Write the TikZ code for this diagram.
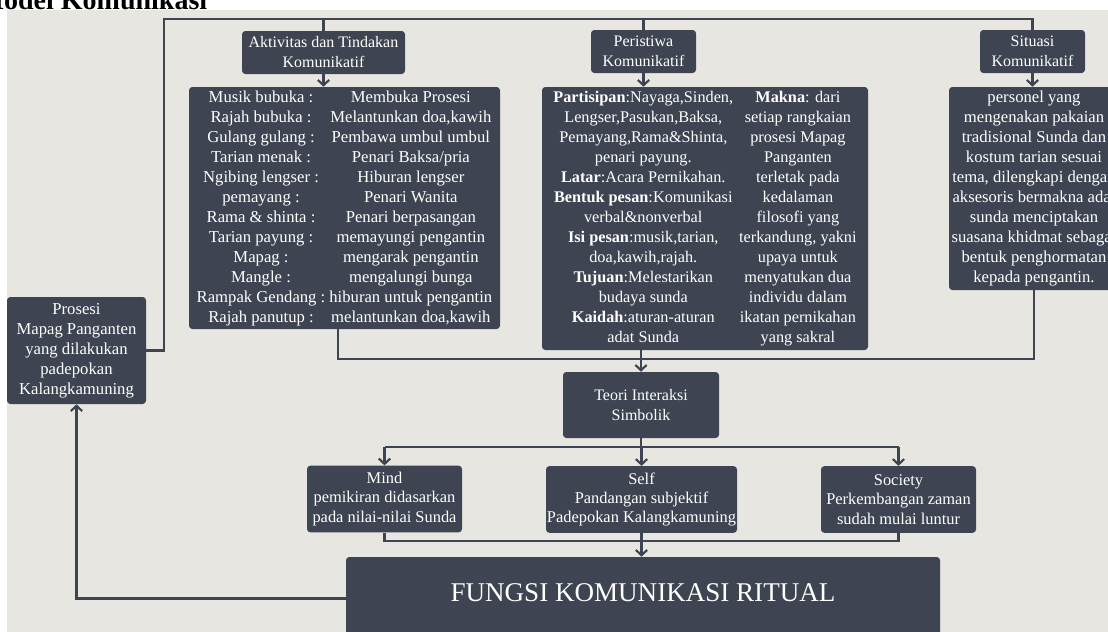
\documentclass[tikz,border=0pt]{standalone}
\usepackage{fontspec}
\setmainfont{Liberation Serif}
\usepackage{tikz}
\usetikzlibrary{arrows.meta}
\definecolor{dunkel}{HTML}{3E4451}
\definecolor{grund}{HTML}{E7E6E0}

\begin{document}
\begin{tikzpicture}[x=0.75pt, y=-0.75pt,
			kasten/.style={fill=dunkel, text=white, rounded corners=2.5pt, inner sep=0pt, align=center, font=\fontsize{12.5}{15}\selectfont},
			titel/.style={kasten, minimum width=78.75pt, minimum height=32.25pt, font=\fontsize{12}{15}\selectfont},
			ebene/.style={kasten, minimum width=116.25pt, minimum height=50pt, font=\fontsize{12.3}{14.6}\selectfont},
			linie/.style={draw=dunkel, line width=1.6pt},
			>={Straight Barb[length=4pt,width=8.5pt]}]   %Voreinstellung für Pfeilspitzen
			%Hintergrund
			\useasboundingbox (0,0) rectangle (1108,632);
			\fill[white] (0,0) rectangle (1108,632);
			\fill[grund] (7,10) rectangle (1108,632);
			\node[anchor=base west, font=\bfseries\fontsize{21}{25}\selectfont] (ueberschrift) at (-27,9) {Model Komunikasi};
			% Kaesten oben
			\node[kasten, minimum width=104.25pt, minimum height=80.25pt] (prosesi) at (76.5,350.5) {Prosesi\\ Mapag Panganten\\ yang dilakukan\\ padepokan\\ Kalangkamuning};
			\node[titel, minimum width=122.25pt] (aktivitas) at (323.5,52.5) {Aktivitas dan Tindakan\\ Komunikatif};
			\node[titel] (peristiwa) at (643.5,51.5) {Peristiwa\\ Komunikatif};
			\node[titel] (situasi) at (1032.5,51.5) {Situasi\\ Komunikatif};
			\node[kasten, minimum width=233.25pt, minimum height=181.5pt] (tabel) at (344.5,208) {\begin{tabular}{@{}c@{\hspace{3pt}}c@{}}
				Musik bubuka : & Membuka Prosesi\\
				Rajah bubuka : & Melantunkan doa,kawih\\
				Gulang gulang : & Pembawa umbul umbul\\
				Tarian menak : & Penari Baksa/pria\\
				Ngibing lengser : & Hiburan lengser\\
				pemayang : & Penari Wanita\\
				Rama \& shinta : & Penari berpasangan\\
				Tarian payung : & memayungi pengantin\\
				Mapag : & mengarak pengantin\\
				Mangle : & mengalungi bunga\\
				Rampak Gendang : & hiburan untuk pengantin\\
				Rajah panutup : & melantunkan doa,kawih
			\end{tabular}};
			\node[kasten, minimum width=244.5pt, minimum height=197.25pt, font=\fontsize{12.2}{15}\selectfont] (pisi) at (705,218.5) {\begin{tabular}{@{}c@{\hspace{4.5pt}}c@{}}
				\textbf{Partisipan}:Nayaga,Sinden, & \textbf{Makna}: dari\\
				Lengser,Pasukan,Baksa, & setiap rangkaian\\
				Pemayang,Rama\&Shinta, & prosesi Mapag\\
				penari payung. & Panganten\\
				\textbf{Latar}:Acara Pernikahan. & terletak pada\\
				\textbf{Bentuk pesan}:Komunikasi & kedalaman\\
				verbal\&nonverbal & filosofi yang\\
				\textbf{Isi pesan}:musik,tarian, & terkandung, yakni\\
				doa,kawih,rajah. & upaya untuk\\
				\textbf{Tujuan}:Melestarikan & menyatukan dua\\
				budaya sunda & individu dalam\\
				\textbf{Kaidah}:aturan-aturan & ikatan pernikahan\\
				adat Sunda & yang sakral
			\end{tabular}};
			\node[kasten, minimum width=127.5pt, minimum height=152.25pt] (sisi) at (1034,188.5) {personel yang\\ mengenakan pakaian\\ tradisional Sunda dan\\ kostum tarian sesuai\\ tema, dilengkapi dengan\\ aksesoris bermakna adat\\ sunda menciptakan\\ suasana khidmat sebagai\\ bentuk penghormatan\\ kepada pengantin.};
			% Kaesten unten
			\node[kasten, minimum width=117pt, minimum height=49.5pt, font=\fontsize{12}{14.3}\selectfont] (teori) at (641,405) {Teori Interaksi\\ Simbolik};
			\node[ebene] (mind) at (384.5,499) {Mind\\ pemikiran didasarkan\\ pada nilai-nilai Sunda};
			\node[ebene, minimum width=143.25pt] (self) at (641.5,499.5) {Self\\ Pandangan subjektif\\ Padepokan Kalangkamuning};
			\node[ebene] (society) at (898.5,499.5) {Society\\ Perkembangan zaman\\ sudah mulai luntur};
			\node[kasten, minimum width=445.5pt, minimum height=62.25pt, text height=14pt, text depth=9.75pt, font=\fontsize{20.3}{24}\selectfont] (fungsi) at (643,598.5) {FUNGSI KOMUNIKASI RITUAL};
			% Verbindungen oben
			\coordinate (eckeoben) at (164,19);
			\draw[linie] (prosesi.east) -| (eckeoben) -| (situasi.north);
			\draw[linie] (aktivitas.north) -- (aktivitas.north |- eckeoben);
			\draw[linie] (peristiwa.north) -- (peristiwa.north |- eckeoben);
			\draw[linie,->] (aktivitas.south) -- (aktivitas.south |- tabel.north);
			\draw[linie,->] (peristiwa.south) -- (peristiwa.south |- pisi.north);
			\draw[linie,->] (situasi.south) -- (situasi.south |- sisi.north);
			% Sammeln zur Theorie
			\coordinate (sammeloben) at (338,359);
			\draw[linie] (tabel.south -| sammeloben) -- (sammeloben) -| (sisi.south);
			\draw[linie,->] (teori.north |- pisi.south) -- (teori.north);
			% Verteilen auf Mind, Self, Society
			\coordinate (verteiler) at (641,447);
			\draw[linie] (teori.south) -- (verteiler);
			\draw[linie] (mind.north |- verteiler) -- (society.north |- verteiler);
			\foreach \ziel in {mind,self,society} \draw[linie,->] (\ziel.north |- verteiler) -- (\ziel.north);
			% Zusammenfuehren und Rueckkopplung
			\coordinate (sammelunten) at (641,541);
			\draw[linie] (mind.south) |- (sammelunten) -| (society.south);
			\draw[linie,->] (self.south) -- (self.south |- fungsi.north);
			\draw[linie,->] (fungsi.west) -| (prosesi.south);
		\end{tikzpicture}
\end{document}
